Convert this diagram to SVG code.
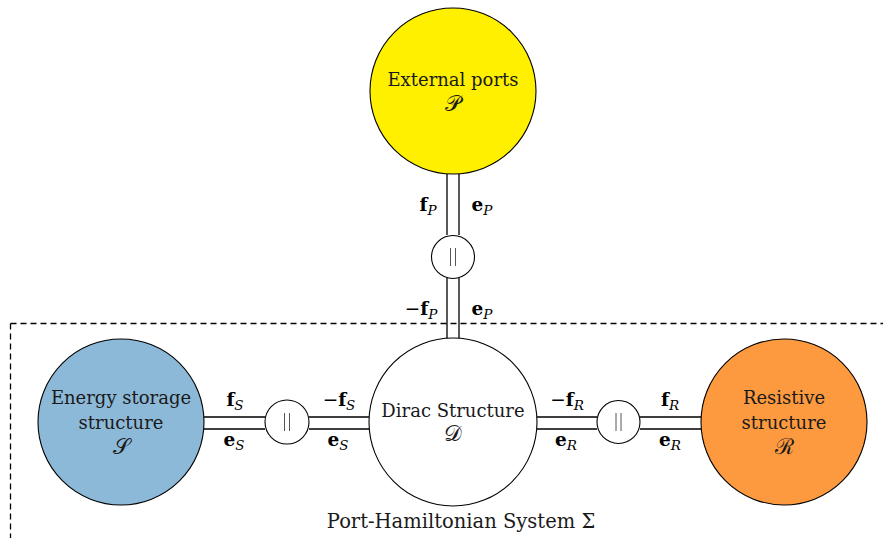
<svg xmlns="http://www.w3.org/2000/svg" width="883" height="538" viewBox="0 0 883 538">
<style>
.node{stroke:#000;stroke-width:1.1}
text{font-family:"DejaVu Serif",serif}
.t{font-size:18px;fill:#1a1a1a;text-anchor:middle}
.m{font-size:22px;fill:#1a1a1a;text-anchor:middle}
.lab{font-size:18.5px;fill:#000;text-anchor:middle}
.b{font-weight:bold}
.s{font-style:italic;font-size:13.5px}
.w{stroke:#000;stroke-width:1.3;fill:none}
.bar{stroke:#555;stroke-width:1;fill:none}
</style>
<g id="boundary">
<path d="M10.5 323.5 H883 M10.5 323.5 V538" fill="none" stroke="#000" stroke-width="1.3" stroke-dasharray="6,4"/>
</g>
<g id="connectors">
<path class="w" d="M447 174 V235 M459 174 V235 M447 278 V339 M459 278 V339"/>
<path class="w" d="M204 417 H265 M204 429 H265 M309 417 H369 M309 429 H369"/>
<path class="w" d="M537 417 H597 M537 429 H597 M640 417 H701 M640 429 H701"/>
</g>
<g id="external-ports">
<circle class="node" cx="453" cy="91" r="83" fill="#FFF000"/>
<text class="t" x="453" y="86">External ports</text>
<text class="m" x="453" y="111">𝒫</text>
</g>
<g id="dirac">
<circle class="node" cx="453" cy="422" r="84" fill="#fff"/>
<text class="t" x="453" y="417">Dirac Structure</text>
<text class="m" x="453" y="441">𝒟</text>
</g>
<g id="storage">
<circle class="node" cx="121" cy="422" r="83" fill="#8DB9D8"/>
<text class="t" x="121" y="404">Energy storage</text>
<text class="t" x="121" y="429">structure</text>
<text class="m" x="121" y="454">𝒮</text>
</g>
<g id="resistive">
<circle class="node" cx="784" cy="422" r="83" fill="#FD9A40"/>
<text class="t" x="784" y="404">Resistive</text>
<text class="t" x="784" y="429">structure</text>
<text class="m" x="784" y="454">ℛ</text>
</g>
<g id="junction-p">
<circle class="node" cx="453" cy="257" r="21.5" fill="#fff"/>
<path class="bar" d="M450.5 248 V266 M455.5 248 V266"/>
</g>
<g id="junction-s">
<circle class="node" cx="287" cy="422" r="22" fill="#fff"/>
<path class="bar" d="M284.5 413 V431 M289.5 413 V431"/>
</g>
<g id="junction-r">
<circle class="node" cx="618.5" cy="422" r="21.5" fill="#fff"/>
<path class="bar" d="M616 413 V431 M621 413 V431"/>
</g>
<g id="labels">
<text class="lab" x="428" y="211"><tspan class="b">f</tspan><tspan class="s" dy="4">P</tspan></text>
<text class="lab" x="482" y="211"><tspan class="b">e</tspan><tspan class="s" dy="4">P</tspan></text>
<text class="lab" x="421" y="315">−<tspan class="b">f</tspan><tspan class="s" dy="4">P</tspan></text>
<text class="lab" x="482" y="315"><tspan class="b">e</tspan><tspan class="s" dy="4">P</tspan></text>
<text class="lab" x="235" y="406"><tspan class="b">f</tspan><tspan class="s" dy="4">S</tspan></text>
<text class="lab" x="234" y="446"><tspan class="b">e</tspan><tspan class="s" dy="4">S</tspan></text>
<text class="lab" x="339" y="406">−<tspan class="b">f</tspan><tspan class="s" dy="4">S</tspan></text>
<text class="lab" x="338" y="446"><tspan class="b">e</tspan><tspan class="s" dy="4">S</tspan></text>
<text class="lab" x="567" y="406">−<tspan class="b">f</tspan><tspan class="s" dy="4">R</tspan></text>
<text class="lab" x="566" y="446"><tspan class="b">e</tspan><tspan class="s" dy="4">R</tspan></text>
<text class="lab" x="670" y="406"><tspan class="b">f</tspan><tspan class="s" dy="4">R</tspan></text>
<text class="lab" x="670" y="446"><tspan class="b">e</tspan><tspan class="s" dy="4">R</tspan></text>
<text class="t" x="461" y="528" style="font-size:19.5px">Port-Hamiltonian System Σ</text>
</g>
</svg>
